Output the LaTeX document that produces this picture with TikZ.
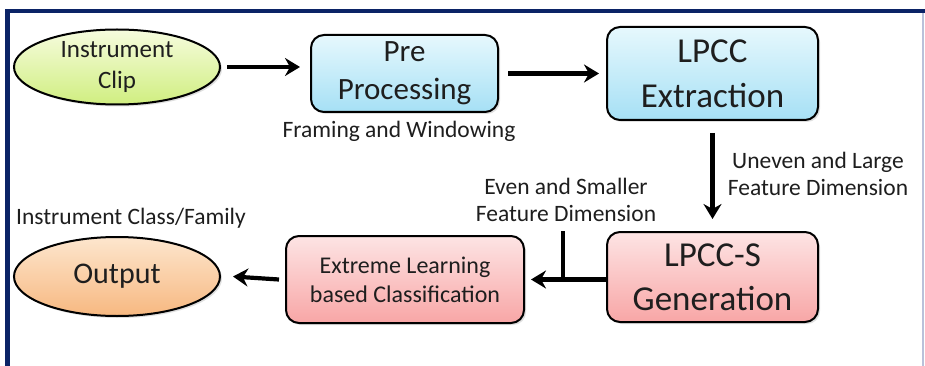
\documentclass[tikz,border=0pt]{standalone}
\usepackage{fontspec}
\setmainfont{Carlito}
\usetikzlibrary{arrows.meta,shapes.geometric,shadows}
\definecolor{navy}{HTML}{0B2366}
\definecolor{edgeline}{HTML}{B9C1DA}
\definecolor{txt}{HTML}{1E1E1E}
\tikzset{
  base/.style={draw=black, line width=2pt, inner sep=0pt, align=center, text=txt,
    drop shadow={shadow xshift=2pt, shadow yshift=-2pt, opacity=0.25, fill=gray}},
  bluebox/.style={base, rounded corners=13pt, top color={rgb,255:red,230;green,248;blue,253}, bottom color={rgb,255:red,166;green,224;blue,245}},
  pinkbox/.style={base, rounded corners=13pt, top color={rgb,255:red,253;green,228;blue,228}, bottom color={rgb,255:red,248;green,166;blue,166}},
  greenell/.style={base, ellipse, top color={rgb,255:red,246;green,252;blue,222}, bottom color={rgb,255:red,208;green,238;blue,128}},
  orangeell/.style={base, ellipse, top color={rgb,255:red,253;green,230;blue,206}, bottom color={rgb,255:red,247;green,184;blue,128}},
  flow/.style={line width=4.2pt, -{Stealth[length=15pt,width=18pt,inset=5pt]}},
  lbl/.style={text=txt, align=center, inner sep=0pt, font=\fontsize{23.5}{27}\selectfont},
}
\begin{document}
\begin{tikzpicture}[x=1pt,y=-1pt]
\useasboundingbox (0,0) rectangle (925,366);
\fill[white] (0,0) rectangle (925,366);
% frame
\fill[navy] (5,9) rectangle (925,13.5);
\fill[navy] (5,9) rectangle (9.5,366);
\fill[edgeline] (922,13.5) rectangle (924,366);

\node[greenell, minimum width=206pt, minimum height=75pt, font=\fontsize{25}{31}\selectfont] (clip) at (117,67) {Instrument\\Clip};
\node[bluebox, minimum width=187pt, minimum height=77pt, font=\fontsize{31}{38}\selectfont] (pre) at (404.5,73.5) {Pre\\Processing};
\node[bluebox, minimum width=211pt, minimum height=93pt, font=\fontsize{35}{45}\selectfont] (lpcc) at (712.5,73.5) {LPCC\\Extraction};
\node[pinkbox, minimum width=211pt, minimum height=90pt, font=\fontsize{35}{44}\selectfont] (lpccs) at (712.5,277) {LPCC-S\\Generation};
\node[pinkbox, minimum width=238pt, minimum height=87pt, font=\fontsize{24}{29}\selectfont] (elm) at (405,279.5) {Extreme Learning\\based Classification};
\node[orangeell, minimum width=206pt, minimum height=79pt, font=\fontsize{30}{36}\selectfont] (out) at (117,276.5) {Output};

% labels
\node[lbl] (fw) at (399,131) {Framing and Windowing};
\node[lbl] (ul) at (818,173.5) {Uneven and Large\\Feature Dimension};
\node[lbl] (es) at (566,200) {Even and Smaller\\Feature Dimension};
\node[lbl] (icf) at (131,218) {Instrument Class/Family};

% connectors
\draw[flow] ([xshift=6pt]clip.east) -- ([xshift=-10pt]pre.west |- clip.east);
\draw[flow] ([xshift=9pt]pre.east) -- ([xshift=-7pt]lpcc.west |- pre.east);
\draw[flow] ([yshift=-12pt]lpcc.south) -- ([yshift=12pt]lpccs.north);
\coordinate (tick) at (563,231);
\draw[flow] (lpccs.west |- elm.east) -- ([xshift=6pt]elm.east);
\draw[line width=4.2pt] (tick) -- (tick |- elm.east);
\draw[flow] ([xshift=-6pt]elm.west) -- ([xshift=12pt]out.east);
\end{tikzpicture}
\end{document}
